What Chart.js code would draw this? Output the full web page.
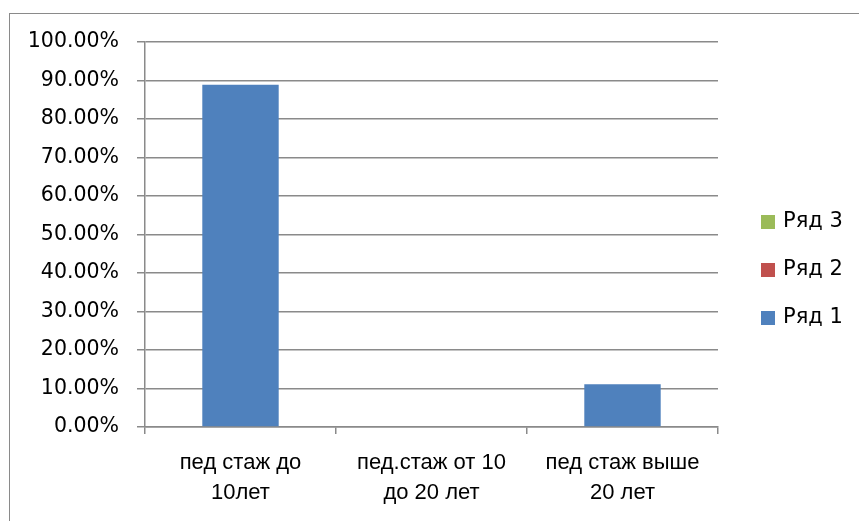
<!DOCTYPE html>
<html>
<head>
<meta charset="utf-8">
<script src="https://cdn.jsdelivr.net/npm/chart.js@4"></script>
<style>
  html, body { margin: 0; padding: 0; background: #fff; overflow: hidden; }
  #wrap { position: relative; width: 859px; height: 521px; }
  #frame {
    position: absolute; left: 9px; top: 13px; width: 900px; height: 600px;
    border: 1px solid #8a8a8a; box-sizing: border-box;
  }
  #chart { position: absolute; left: 0; top: 0; }
</style>
</head>
<body>
<div id="wrap">
  <div id="frame"></div>
  <canvas id="chart" width="859" height="521"></canvas>
</div>
<script>
// --- Data ---
const categories = [
  ["пед стаж до", "10лет"],
  ["пед.стаж от 10", "до 20 лет"],
  ["пед стаж выше", "20 лет"],
];
const seriesNames = ["Ряд 1", "Ряд 2", "Ряд 3"];
const series1 = [0.8889, 0, 0.1111];
const series2 = [0, 0, 0];
const series3 = [0, 0, 0];
const seriesColors = ["#4F81BD", "#C0504D", "#9BBB59"];
const yTicks = [0, 0.1, 0.2, 0.3, 0.4, 0.5, 0.6, 0.7, 0.8, 0.9, 1.0];

const GRID = "#8a8a8a";
const catFont = "'Liberation Sans', sans-serif";
const numFont = "'DejaVu Sans', sans-serif";

// --- Legend drawn at the right, reversed order (as in Excel) ---
const sideLegend = {
  id: "sideLegend",
  afterDraw(chart) {
    const ctx = chart.ctx;
    const ds = chart.data.datasets;
    ctx.save();
    ctx.font = "21px " + numFont;
    ctx.textBaseline = "middle";
    ctx.textAlign = "left";
    for (let i = ds.length - 1, row = 0; i >= 0; i--, row++) {
      const cy = 222 + row * 48;
      ctx.fillStyle = ds[i].backgroundColor;
      ctx.fillRect(761, cy - 7, 14, 14);
      ctx.fillStyle = "#000";
      ctx.fillText(ds[i].label, 783, cy);
    }
    ctx.restore();
  }
};

const makeSet = (name, values, color) => ({
  label: name,
  data: values,
  backgroundColor: color,
  borderWidth: 0,
  categoryPercentage: 1.0,
  barPercentage: 0.4,
});

new Chart(document.getElementById("chart"), {
  type: "bar",
  data: {
    labels: categories,
    datasets: [
      makeSet(seriesNames[0], series1, seriesColors[0]),
      makeSet(seriesNames[1], series2, seriesColors[1]),
      makeSet(seriesNames[2], series3, seriesColors[2]),
    ],
  },
  options: {
    responsive: false,
    animation: false,
    devicePixelRatio: 1,
    layout: { padding: { top: 42, right: 141, bottom: 0, left: 0 } },
    plugins: { legend: { display: false }, tooltip: { enabled: false } },
    scales: {
      x: {
        stacked: true,
        afterFit: (s) => { s.height = 94; },
        grid: { offset: true, drawOnChartArea: false, drawTicks: true, tickLength: 7, color: GRID, lineWidth: 1.5 },
        border: { display: true, color: GRID, width: 1.5 },
        ticks: {
          color: "#000",
          padding: 14,
          maxRotation: 0,
          autoSkip: false,
          font: { family: catFont, size: 22, lineHeight: "30px" },
        },
      },
      y: {
        stacked: true,
        min: 0,
        max: 1,
        afterFit: (s) => { s.width = 145; },
        afterBuildTicks: (s) => { s.ticks = yTicks.map(v => ({ value: v })); },
        grid: { drawTicks: true, tickLength: 8, color: GRID, lineWidth: 1.5 },
        border: { display: true, color: GRID, width: 1.5 },
        ticks: {
          color: "#000",
          padding: 18,
          font: { family: numFont, size: 20.5 },
          callback: (v) => (v * 100).toFixed(2) + "%",
        },
      },
    },
  },
  plugins: [sideLegend],
});
</script>
</body>
</html>
